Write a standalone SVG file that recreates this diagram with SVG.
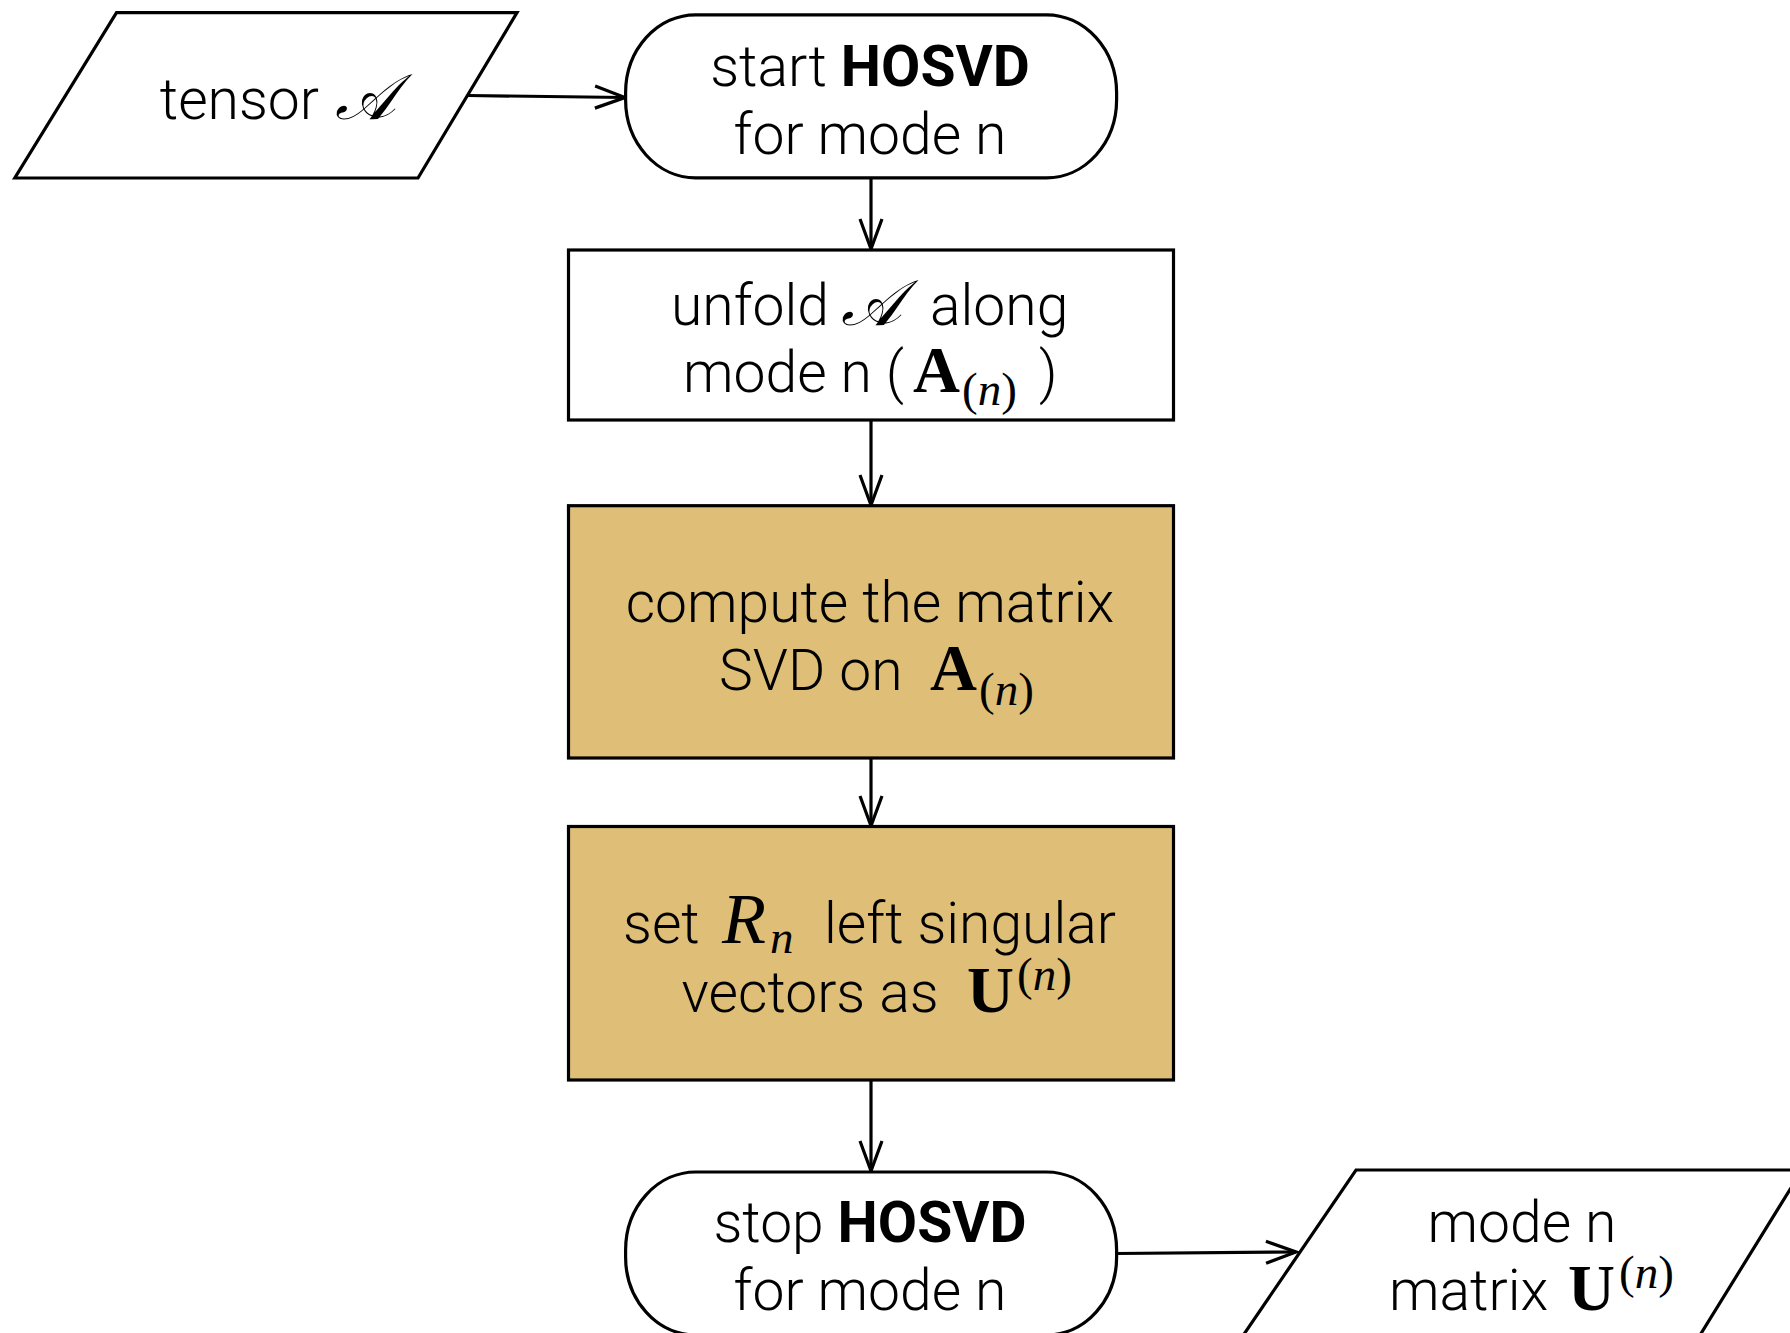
<svg xmlns="http://www.w3.org/2000/svg" width="1790" height="1333" viewBox="0 0 1790 1333">
<style>
.shape{fill:#fff;stroke:#000;stroke-width:3.2}
.proc{fill:#DFBF78;stroke:#000;stroke-width:3.2}
.t{font-family:Roboto,"Liberation Sans",Arial,sans-serif;font-weight:300;font-size:57px;fill:#000}
.b{font-weight:bold}
.m{font-family:"Liberation Serif","Times New Roman",serif;font-weight:normal;fill:#000}
.mb{font-weight:bold;font-size:65px}
.mi{font-style:italic}
.ms{font-size:47px}
.sc{font-family:"DejaVu Serif","Liberation Serif",serif;font-style:italic;font-weight:normal;font-size:64px;fill:#000}
.conn{fill:none;stroke:#000;stroke-width:3.2}
</style>
<defs>
<marker id="arr" markerUnits="userSpaceOnUse" markerWidth="36" markerHeight="30" viewBox="0 0 36 30" refX="33" refY="15" orient="auto">
<path d="M3,4 L33,15 L3,26" fill="none" stroke="#000" stroke-width="3.2"/>
</marker>
</defs>
<g id="connectors">
<line class="conn" x1="468" y1="95.5" x2="625" y2="97.5" marker-end="url(#arr)"/>
<line class="conn" x1="871" y1="178" x2="871" y2="249" marker-end="url(#arr)"/>
<line class="conn" x1="871" y1="420" x2="871" y2="505" marker-end="url(#arr)"/>
<line class="conn" x1="871" y1="758" x2="871" y2="826" marker-end="url(#arr)"/>
<line class="conn" x1="871" y1="1080" x2="871" y2="1171" marker-end="url(#arr)"/>
<line class="conn" x1="1116.5" y1="1253.5" x2="1296" y2="1252" marker-end="url(#arr)"/>
</g>
<g id="input-tensor">
<polygon class="shape" points="116.5,12.6 517,12.6 418,178 14.8,178"/>
<text class="t" y="118.7"><tspan x="159.8">tensor</tspan><tspan class="sc" x="335">𝒜</tspan></text>
</g>
<g id="start">
<rect class="shape" x="625.6" y="14.8" width="491" height="163" rx="70" ry="78"/>
<text class="t" x="870" y="86" text-anchor="middle">start <tspan class="b">HOSVD</tspan></text>
<text class="t" x="870" y="154" text-anchor="middle">for mode n</text>
</g>
<g id="unfold">
<rect class="shape" x="568.5" y="250" width="605" height="170"/>
<text class="t" y="325"><tspan x="671">unfold</tspan><tspan class="sc" x="841">𝒜</tspan><tspan x="930">along</tspan></text>
<text class="t" y="391.6"><tspan x="683">mode n (</tspan><tspan class="m mb" x="913">A</tspan><tspan class="m ms" x="962" dy="13">(<tspan class="mi">n</tspan>)</tspan><tspan x="1039" dy="-13">)</tspan></text>
</g>
<g id="compute">
<rect class="proc" x="568.5" y="505.7" width="605" height="252.3"/>
<text class="t" x="870" y="622" text-anchor="middle">compute the matrix</text>
<text class="t" y="689.5"><tspan x="719">SVD on</tspan><tspan class="m mb" x="930">A</tspan><tspan class="m ms" x="979" dy="15">(<tspan class="mi">n</tspan>)</tspan></text>
</g>
<g id="set">
<rect class="proc" x="568.5" y="826.5" width="605" height="253.5"/>
<text class="t" y="943"><tspan x="623">set</tspan><tspan class="m mi" x="722" font-size="72">R</tspan><tspan class="m mi ms" x="770" dy="10">n</tspan><tspan x="824" dy="-10">left singular</tspan></text>
<text class="t" y="1011.5"><tspan x="681.5">vectors as</tspan><tspan class="m mb" x="967">U</tspan><tspan class="m ms" x="1017" dy="-22">(<tspan class="mi">n</tspan>)</tspan></text>
</g>
<g id="stop">
<rect class="shape" x="625.6" y="1172" width="491" height="163" rx="70" ry="78"/>
<text class="t" x="870" y="1242" text-anchor="middle">stop <tspan class="b">HOSVD</tspan></text>
<text class="t" x="870" y="1309.5" text-anchor="middle">for mode n</text>
</g>
<g id="output-matrix">
<polygon class="shape" points="1356,1170 1802,1170 1697,1340 1240,1340"/>
<text class="t" x="1522" y="1242" text-anchor="middle">mode n</text>
<text class="t" y="1309.5"><tspan x="1389">matrix</tspan><tspan class="m mb" x="1568">U</tspan><tspan class="m ms" x="1619" dy="-22">(<tspan class="mi">n</tspan>)</tspan></text>
</g>
</svg>
